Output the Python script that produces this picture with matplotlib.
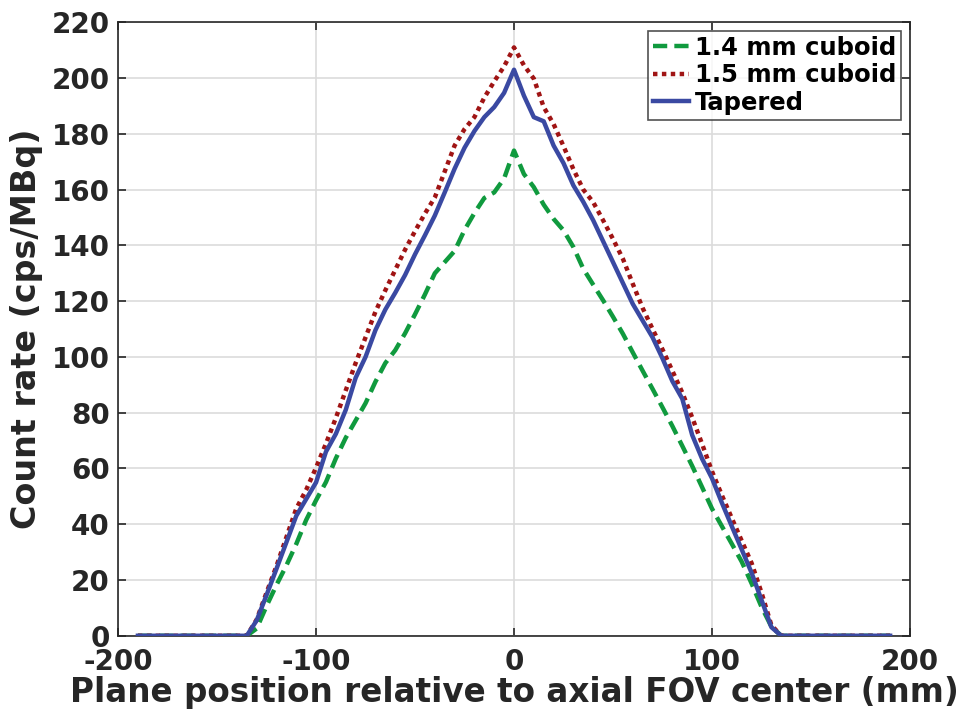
import matplotlib
matplotlib.use("Agg")
import matplotlib.pyplot as plt

# Plane positions (mm)
x_pos = [-190, -135, -130, -125, -120, -115, -110, -105, -100, -95, -90, -85, -80, -75,
         -70, -65, -60, -55, -50, -45, -40, -35, -30, -25, -20, -15, -10, -5, 0,
         5, 10, 15, 20, 25, 30, 35, 40, 45, 50, 55, 60, 65, 70, 75, 80, 85, 90,
         95, 100, 105, 110, 115, 120, 125, 130, 135, 190]

cuboid_14 = [0, 0, 2.6, 10.7, 18.2, 25.2, 32.9, 41.5, 48.6, 55.1, 63.6, 71.0, 77.2, 83.4,
             91.1, 97.8, 102.4, 108.5, 115.3, 122.4, 130.0, 134.0, 138.0, 145.5, 151.6, 157.0, 159.0, 164.0, 174.0,
             165.6, 160.9, 154.6, 149.5, 145.4, 139.4, 131.6, 125.9, 120.3, 114.4, 108.3, 101.6, 95.0, 88.5,
             81.9, 75.2, 68.1, 60.9, 53.3, 45.6, 39.3, 33.0, 26.6, 18.8, 10.4, 3.3, 0, 0]

cuboid_15 = [0, 0, 5.8, 15.5, 25.0, 35.3, 45.6, 52.3, 60.3, 68.9, 78.1, 88.0, 97.8, 107.0,
             116.2, 123.9, 131.2, 138.5, 145.1, 151.4, 157.2, 166.5, 175.8, 181.7, 186.0, 193.0, 198.8, 204.2, 211.0,
             204.6, 199.8, 189.6, 183.5, 175.6, 167.3, 160.0, 155.5, 149.0, 142.3, 135.2, 126.2, 117.5, 110.0,
             102.7, 95.0, 87.2, 78.3, 68.8, 59.0, 50.4, 42.2, 34.1, 26.1, 15.5, 3.8, 0, 0]

tapered = [0, 0, 5.5, 14.6, 24.0, 33.5, 43.0, 49.0, 55.0, 66.0, 72.4, 81.0, 92.5, 100.0,
           109.6, 117.0, 123.0, 129.4, 136.8, 143.6, 150.7, 159.0, 167.5, 175.0, 181.0, 186.0, 189.6, 194.7, 203.0,
           193.7, 186.0, 184.5, 175.8, 169.5, 161.5, 155.6, 149.0, 141.5, 134.0, 126.5, 119.0, 113.0, 107.0,
           99.5, 91.3, 85.0, 72.0, 63.5, 56.5, 47.7, 39.3, 31.0, 22.6, 12.9, 3.1, 0, 0]

labels = ["1.4 mm cuboid", "1.5 mm cuboid", "Tapered"]
colors = ["#109a3e", "#a01414", "#3a49a2"]

plt.rcParams['font.family'] = ['DejaVu Sans']
plt.rcParams['font.weight'] = 'bold'
plt.rcParams['axes.unicode_minus'] = False
txt = '#262626'

fig = plt.figure(figsize=(9.68, 7.2), dpi=100)
ax = fig.add_axes([0.122, 0.117, 0.818, 0.852])

ax.plot(x_pos, cuboid_14, color=colors[0], lw=3.2, ls=(0, (3.2, 1.6)), label=labels[0], zorder=3)
ax.plot(x_pos, cuboid_15, color=colors[1], lw=3.2, ls=(0, (1, 1)), label=labels[1], zorder=3)
ax.plot(x_pos, tapered, color=colors[2], lw=3.2, ls='-', label=labels[2], zorder=4)

ax.set_xlim(-200, 200)
ax.set_ylim(0, 220)
ax.set_xticks([-200, -100, 0, 100, 200])
ax.set_yticks(list(range(0, 221, 20)))
ax.tick_params(direction='in', length=6, width=1.2, labelsize=20, top=True, right=True,
               pad=6, labelcolor=txt, color=txt)
ax.tick_params(axis='x', pad=9)
for lab in ax.get_xticklabels() + ax.get_yticklabels():
    lab.set_fontweight('bold')
ax.grid(True, color='#dcdcdc', lw=1.2)
ax.set_axisbelow(True)
for s in ax.spines.values():
    s.set_linewidth(1.2)
    s.set_color(txt)

ax.set_xlabel("Plane position relative to axial FOV center (mm)", fontsize=23.5,
              fontweight='bold', labelpad=0, color=txt)
ax.set_ylabel("Count rate (cps/MBq)", fontsize=24, fontweight='bold', labelpad=6, color=txt)

leg = ax.legend(loc='upper right', fontsize=17.5, frameon=True, fancybox=False,
                edgecolor=txt, handlelength=1.5, handletextpad=0.25,
                borderpad=0.2, labelspacing=0.15, borderaxespad=0.35)
leg.get_frame().set_linewidth(1.2)
for t in leg.get_texts():
    t.set_fontweight('bold')
    t.set_color('black')

fig.savefig("out.png", dpi=100)
